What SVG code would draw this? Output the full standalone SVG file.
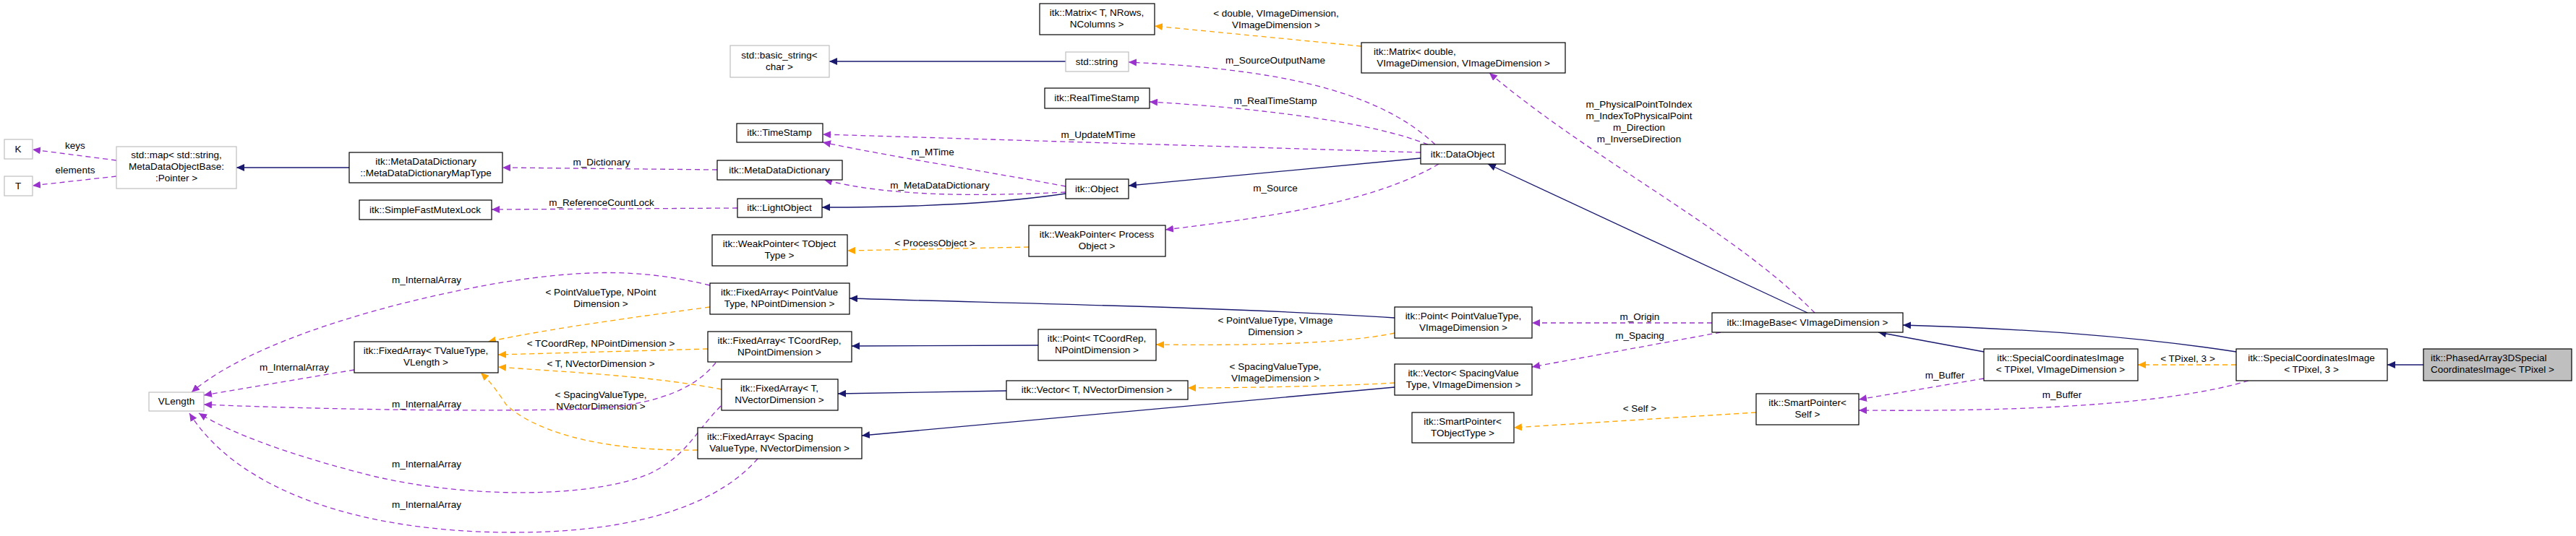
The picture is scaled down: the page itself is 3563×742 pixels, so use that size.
<svg xmlns="http://www.w3.org/2000/svg" width="3563" height="742" viewBox="0 0 3563 742">
<style>
text{font-family:"Liberation Sans",Arial,sans-serif;font-size:13.5px;fill:#000;text-anchor:middle}
.n rect{fill:#fff;stroke:#000;stroke-width:1.2}
.g rect{fill:#fff;stroke:#bfbfbf;stroke-width:1.2}
.s rect{fill:#bfbfbf;stroke:#000;stroke-width:1.2}
.inh{fill:none;stroke:#191970;stroke-width:1.3;marker-end:url(#ai)}
.use{fill:none;stroke:#9a32cd;stroke-width:1.3;stroke-dasharray:7,5;marker-end:url(#au)}
.tpl{fill:none;stroke:#ffa500;stroke-width:1.3;stroke-dasharray:7,5;marker-end:url(#at)}
</style>
<defs>
<marker id="ai" markerWidth="12" markerHeight="10" refX="11" refY="5" orient="auto" markerUnits="userSpaceOnUse"><path d="M0,0L11,5L0,10z" fill="#191970"/></marker>
<marker id="au" markerWidth="12" markerHeight="10" refX="11" refY="5" orient="auto" markerUnits="userSpaceOnUse"><path d="M0,0L11,5L0,10z" fill="#9a32cd"/></marker>
<marker id="at" markerWidth="12" markerHeight="10" refX="11" refY="5" orient="auto" markerUnits="userSpaceOnUse"><path d="M0,0L11,5L0,10z" fill="#ffa500"/></marker>
</defs>
<rect width="3563" height="742" fill="#fff"/>
<g id="connectors">
<path class="use" d="M161,222L45,207"/><text x="104" y="206">keys</text>
<path class="use" d="M161,244L45,257"/><text x="104" y="240">elements</text>
<path class="inh" d="M483,232L327,232"/>
<path class="use" d="M992,235L695,232"/><text x="832" y="229">m_Dictionary</text>
<path class="use" d="M1020,288L680,290"/><text x="832" y="285">m_ReferenceCountLock</text>
<path class="inh" d="M1474,85L1147,85"/>
<path class="use" d="M1474,258C1380,240 1250,220 1138,197"/><text x="1290" y="215">m_MTime</text>
<path class="use" d="M1474,266C1350,272 1230,272 1140,249"/><text x="1300" y="261">m_MetaDataDictionary</text>
<path class="inh" d="M1474,268C1380,282 1250,287 1137,287"/>
<path class="inh" d="M1965,219L1561,257"/>
<path class="use" d="M1965,211L1138,186"/><text x="1519" y="191">m_UpdateMTime</text>
<path class="use" d="M1975,200C1900,170 1750,150 1590,141"/><text x="1764" y="144">m_RealTimeStamp</text>
<path class="use" d="M1985,200C1900,120 1750,95 1561,86"/><text x="1764" y="88">m_SourceOutputName</text>
<path class="use" d="M1990,227C1900,280 1760,300 1612,318"/><text x="1764" y="265">m_Source</text>
<path class="tpl" d="M1423,342L1172,347"/><text x="1293" y="341">&lt; ProcessObject &gt;</text>
<path class="tpl" d="M1883,64L1597,36"/><text x="1765" y="23">&lt; double, VImageDimension,</text><text x="1765" y="39">VImageDimension &gt;</text>
<path class="inh" d="M2500,433L2058,227"/>
<path class="use" d="M2510,433C2400,320 2200,220 2060,101"/><text x="2267" y="149">m_PhysicalPointToIndex</text><text x="2267" y="165">m_IndexToPhysicalPoint</text><text x="2267" y="181">m_Direction</text><text x="2267" y="197">m_InverseDirection</text>
<path class="use" d="M2368,447L2119,447"/><text x="2268" y="443">m_Origin</text>
<path class="use" d="M2380,460L2119,508"/><text x="2268" y="469">m_Spacing</text>
<path class="inh" d="M1929,440C1700,425 1400,420 1175,413"/>
<path class="tpl" d="M1929,461C1850,478 1700,478 1599,477"/><text x="1764" y="448">&lt; PointValueType, VImage</text><text x="1764" y="464">Dimension &gt;</text>
<path class="inh" d="M1436,478L1178,479"/>
<path class="tpl" d="M1929,530C1850,535 1700,537 1643,537"/><text x="1764" y="512">&lt; SpacingValueType,</text><text x="1764" y="528">VImageDimension &gt;</text>
<path class="inh" d="M1929,536L1192,603"/>
<path class="inh" d="M1392,541L1159,545"/>
<path class="tpl" d="M982,425C870,440 760,455 675,473"/><text x="831" y="409">&lt; PointValueType, NPoint</text><text x="831" y="425">Dimension &gt;</text>
<path class="tpl" d="M979,483L689,491"/><text x="831" y="480">&lt; TCoordRep, NPointDimension &gt;</text>
<path class="tpl" d="M998,539C900,520 780,515 689,508"/><text x="831" y="508">&lt; T, NVectorDimension &gt;</text>
<path class="tpl" d="M965,623C790,625 720,580 700,560C690,545 680,530 665,516"/><text x="831" y="551">&lt; SpacingValueType,</text><text x="831" y="567">NVectorDimension &gt;</text>
<path class="use" d="M490,512L282,547"/><text x="407" y="513">m_InternalArray</text>
<path class="use" d="M982,395C880,370 800,375 700,390C550,415 350,470 265,543"/><text x="590" y="392">m_InternalArray</text>
<path class="use" d="M990,502C960,540 900,567 774,567C600,570 400,565 282,560"/><text x="590" y="564">m_InternalArray</text>
<path class="use" d="M997,562C960,600 950,630 900,655C820,690 650,690 520,660C400,630 320,600 275,572"/><text x="590" y="647">m_InternalArray</text>
<path class="use" d="M1048,635C1000,690 900,737 710,737C500,737 330,680 262,572"/><text x="590" y="703">m_InternalArray</text>
<path class="inh" d="M2744,487L2598,460"/>
<path class="use" d="M2744,524L2571,553"/><text x="2690" y="524">m_Buffer</text>
<path class="tpl" d="M2429,571L2094,592"/><text x="2268" y="570">&lt; Self &gt;</text>
<path class="inh" d="M3093,487C2950,465 2800,455 2632,450"/>
<path class="tpl" d="M3093,505L2957,505"/><text x="3026" y="501">&lt; TPixel, 3 &gt;</text>
<path class="use" d="M3110,527C3000,560 2800,570 2571,568"/><text x="2852" y="551">m_Buffer</text>
<path class="inh" d="M3352,505L3302,505"/>
</g>
<g id="K" class="g"><rect x="6" y="193" width="39" height="27"/><text x="25" y="211">K</text></g>
<g id="T" class="g"><rect x="6" y="244" width="39" height="27"/><text x="25" y="262">T</text></g>
<g id="stdmap" class="g"><rect x="161" y="203" width="166" height="58"/><text x="244" y="219">std::map&lt; std::string,</text><text x="244" y="235">MetaDataObjectBase:</text><text x="244" y="251">:Pointer &gt;</text></g>
<g id="MapType" class="n"><rect x="483" y="211" width="212" height="42"/><text x="589" y="228">itk::MetaDataDictionary</text><text x="589" y="244">::MetaDataDictionaryMapType</text></g>
<g id="Mutex" class="n"><rect x="497" y="277" width="183" height="27"/><text x="588" y="295">itk::SimpleFastMutexLock</text></g>
<g id="basicstring" class="g"><rect x="1010" y="63" width="137" height="44"/><text x="1078" y="81">std::basic_string&lt;</text><text x="1078" y="97">char &gt;</text></g>
<g id="TimeStamp" class="n"><rect x="1019" y="171" width="119" height="26"/><text x="1078" y="188">itk::TimeStamp</text></g>
<g id="MDD" class="n"><rect x="992" y="222" width="173" height="27"/><text x="1078" y="240">itk::MetaDataDictionary</text></g>
<g id="LightObject" class="n"><rect x="1020" y="275" width="117" height="26"/><text x="1078" y="292">itk::LightObject</text></g>
<g id="WPTObject" class="n"><rect x="985" y="325" width="187" height="43"/><text x="1078" y="342">itk::WeakPointer&lt; TObject</text><text x="1078" y="358">Type &gt;</text></g>
<g id="MatrixT" class="n"><rect x="1438" y="5" width="159" height="43"/><text x="1517" y="22">itk::Matrix&lt; T, NRows,</text><text x="1517" y="38">NColumns &gt;</text></g>
<g id="stdstring" class="g"><rect x="1474" y="72" width="87" height="27"/><text x="1517" y="90">std::string</text></g>
<g id="RealTimeStamp" class="n"><rect x="1445" y="122" width="145" height="28"/><text x="1517" y="140">itk::RealTimeStamp</text></g>
<g id="Object" class="n"><rect x="1474" y="248" width="87" height="27"/><text x="1517" y="266">itk::Object</text></g>
<g id="WPProcess" class="n"><rect x="1423" y="312" width="189" height="43"/><text x="1517" y="329">itk::WeakPointer&lt; Process</text><text x="1517" y="345">Object &gt;</text></g>
<g id="MatrixD" class="n"><rect x="1883" y="59" width="282" height="42"/><text x="1900" y="76" style="text-anchor:start">itk::Matrix&lt; double,</text><text x="2024" y="92">VImageDimension, VImageDimension &gt;</text></g>
<g id="DataObject" class="n"><rect x="1965" y="200" width="117" height="27"/><text x="2023" y="218">itk::DataObject</text></g>
<g id="FAPoint" class="n"><rect x="982" y="392" width="193" height="43"/><text x="1078" y="409">itk::FixedArray&lt; PointValue</text><text x="1078" y="425">Type, NPointDimension &gt;</text></g>
<g id="FATValue" class="n"><rect x="490" y="473" width="199" height="43"/><text x="589" y="490">itk::FixedArray&lt; TValueType,</text><text x="589" y="506">VLength &gt;</text></g>
<g id="FATCoord" class="n"><rect x="979" y="459" width="199" height="42"/><text x="1078" y="476">itk::FixedArray&lt; TCoordRep,</text><text x="1078" y="492">NPointDimension &gt;</text></g>
<g id="FAT" class="n"><rect x="998" y="525" width="161" height="43"/><text x="1078" y="542">itk::FixedArray&lt; T,</text><text x="1078" y="558">NVectorDimension &gt;</text></g>
<g id="FASpacing" class="n"><rect x="965" y="592" width="227" height="43"/><text x="978" y="609" style="text-anchor:start">itk::FixedArray&lt; Spacing</text><text x="1078" y="625">ValueType, NVectorDimension &gt;</text></g>
<g id="VLength" class="g"><rect x="206" y="543" width="76" height="26"/><text x="244" y="560">VLength</text></g>
<g id="PointPV" class="n"><rect x="1929" y="425" width="190" height="43"/><text x="2024" y="442">itk::Point&lt; PointValueType,</text><text x="2024" y="458">VImageDimension &gt;</text></g>
<g id="PointTC" class="n"><rect x="1436" y="456" width="163" height="43"/><text x="1517" y="473">itk::Point&lt; TCoordRep,</text><text x="1517" y="489">NPointDimension &gt;</text></g>
<g id="VectorT" class="n"><rect x="1392" y="527" width="251" height="26"/><text x="1517" y="544">itk::Vector&lt; T, NVectorDimension &gt;</text></g>
<g id="VectorSV" class="n"><rect x="1929" y="504" width="190" height="43"/><text x="2024" y="521">itk::Vector&lt; SpacingValue</text><text x="2024" y="537">Type, VImageDimension &gt;</text></g>
<g id="SPTObject" class="n"><rect x="1953" y="571" width="141" height="42"/><text x="2023" y="588">itk::SmartPointer&lt;</text><text x="2023" y="604">TObjectType &gt;</text></g>
<g id="ImageBase" class="n"><rect x="2368" y="433" width="264" height="27"/><text x="2500" y="451">itk::ImageBase&lt; VImageDimension &gt;</text></g>
<g id="SCIVID" class="n"><rect x="2744" y="483" width="213" height="44"/><text x="2850" y="500">itk::SpecialCoordinatesImage</text><text x="2850" y="516">&lt; TPixel, VImageDimension &gt;</text></g>
<g id="SCI3" class="n"><rect x="3093" y="483" width="209" height="44"/><text x="3197" y="500">itk::SpecialCoordinatesImage</text><text x="3197" y="516">&lt; TPixel, 3 &gt;</text></g>
<g id="PhasedArray" class="s"><rect x="3352" y="483" width="205" height="44"/><text x="3362" y="500" style="text-anchor:start">itk::PhasedArray3DSpecial</text><text x="3362" y="516" style="text-anchor:start">CoordinatesImage&lt; TPixel &gt;</text></g>
<g id="SPSelf" class="n"><rect x="2429" y="545" width="142" height="43"/><text x="2500" y="562">itk::SmartPointer&lt;</text><text x="2500" y="578">Self &gt;</text></g>
</svg>
